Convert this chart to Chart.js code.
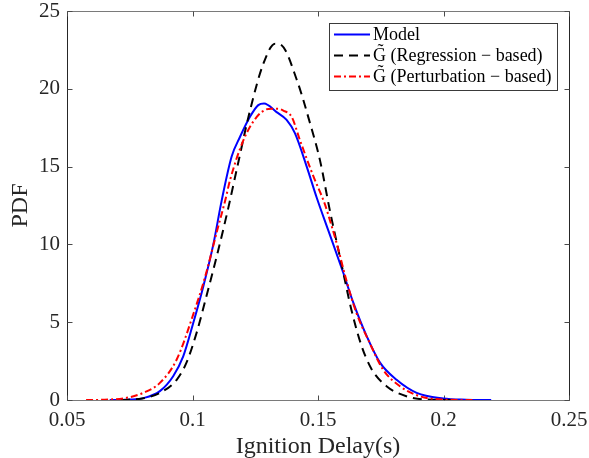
<!DOCTYPE html>
<html>
<head>
<meta charset="utf-8">
<script src="https://cdn.jsdelivr.net/npm/chart.js@4"></script>
<style>
  html, body { margin: 0; padding: 0; background: #ffffff; }
  #wrap { width: 589px; height: 458px; position: relative; }
</style>
</head>
<body>
<div id="wrap"><canvas id="c" width="589" height="458"></canvas></div>
<script>
// ---- Data ----
const xTicks = [0.05, 0.1, 0.15, 0.2, 0.25];
const xTickLabels = ['0.05', '0.1', '0.15', '0.2', '0.25'];
const yTicks = [0, 5, 10, 15, 20, 25];
const yTickLabels = ['0', '5', '10', '15', '20', '25'];

const seriesNames = ['Model', 'G\u0303 (Regression \u2212 based)', 'G\u0303 (Perturbation \u2212 based)'];

// Model (blue solid)
const modelX = [0.067, 0.075, 0.0804, 0.087, 0.0923, 0.0963, 0.1003, 0.1043, 0.1083, 0.1116, 0.1156, 0.1189, 0.1229, 0.1262, 0.1285, 0.1335, 0.1375, 0.1408, 0.1455, 0.1495, 0.1541, 0.1601, 0.1641, 0.1694, 0.1747, 0.1813, 0.1893, 0.1999, 0.209, 0.219];
const modelY = [0, 0.03, 0.12, 0.57, 1.53, 2.8, 4.95, 7.3, 10.0, 12.8, 15.65, 16.9, 18.2, 18.95, 19.05, 18.5, 18.0, 17.15, 15.0, 13.0, 10.9, 8.16, 6.24, 4.1, 2.4, 1.3, 0.46, 0.1, 0.02, 0];

// Regression-based (black dashed)
const regX = [0.0715, 0.080, 0.087, 0.0937, 0.0976, 0.1016, 0.1056, 0.1096, 0.1142, 0.1176, 0.1229, 0.1282, 0.1329, 0.1355, 0.1415, 0.1468, 0.1508, 0.1547, 0.1594, 0.1633, 0.1673, 0.1713, 0.1773, 0.1852, 0.1932, 0.205];
const regY = [0, 0.1, 0.46, 1.3, 2.4, 4.3, 6.7, 9.2, 12.3, 14.8, 18.6, 21.6, 22.9, 22.8, 20.6, 17.8, 15.4, 12.2, 8.7, 5.8, 3.5, 2.0, 0.89, 0.24, 0.03, 0];

// Perturbation-based (red dash-dot)
const pertX = [0.0576, 0.065, 0.0738, 0.0804, 0.087, 0.0937, 0.1003, 0.1050, 0.1099, 0.1131, 0.1149, 0.1203, 0.1256, 0.1290, 0.1315, 0.1340, 0.1362, 0.1395, 0.1428, 0.1481, 0.1527, 0.1554, 0.1574, 0.1613, 0.1653, 0.1706, 0.1759, 0.1826, 0.1905, 0.1999, 0.2115];
const pertY = [0, 0.02, 0.14, 0.46, 1.1, 2.6, 5.5, 7.9, 10.94, 12.87, 14.1, 16.7, 18.2, 18.65, 18.72, 18.72, 18.6, 18.2, 16.7, 14.4, 12.6, 11.2, 10.1, 7.7, 5.6, 3.67, 1.96, 0.89, 0.24, 0.03, 0];

const toPts = (xs, ys) => xs.map((x, i) => ({ x: x, y: ys[i] }));

const SERIF = "'Liberation Serif', 'DejaVu Serif', serif";

// ---- Plugins: MATLAB-style box with inward ticks, and in-axes legend ----
const framePlugin = {
  id: 'frame',
  beforeDatasetsDraw(chart) {
    const { ctx, chartArea: a, scales } = chart;
    const xs = scales.x, ys = scales.y;
    const L = Math.round(a.left) + 0.5, R = Math.round(a.right) + 0.5;
    const T = Math.round(a.top) + 0.5, B = Math.round(a.bottom) + 0.5;
    ctx.save();
    ctx.lineWidth = 1;
    ctx.strokeStyle = '#7a7a7a';
    ctx.beginPath();
    ctx.moveTo(L, T); ctx.lineTo(R, T);
    ctx.moveTo(L, B); ctx.lineTo(R, B);
    ctx.stroke();
    ctx.strokeStyle = '#262626';
    ctx.beginPath();
    ctx.moveTo(L, T); ctx.lineTo(L, B);
    ctx.moveTo(R, T); ctx.lineTo(R, B);
    ctx.stroke();
    const tl = 5;
    ctx.strokeStyle = '#4a4a4a';
    ctx.beginPath();
    xTicks.forEach(v => {
      const px = Math.round(xs.getPixelForValue(v)) + 0.5;
      ctx.moveTo(px, B); ctx.lineTo(px, B - tl);
      ctx.moveTo(px, T); ctx.lineTo(px, T + tl);
    });
    yTicks.forEach(v => {
      const py = Math.round(ys.getPixelForValue(v)) + 0.5;
      ctx.moveTo(L, py); ctx.lineTo(L + tl, py);
      ctx.moveTo(R, py); ctx.lineTo(R - tl, py);
    });
    ctx.stroke();
    ctx.restore();
  }
};

const legendPlugin = {
  id: 'matlabLegend',
  afterDatasetsDraw(chart) {
    const { ctx } = chart;
    const bx = 329.5, by = 23.5, bw = 228, bh = 67;
    ctx.save();
    ctx.fillStyle = '#ffffff';
    ctx.fillRect(bx, by, bw, bh);
    ctx.strokeStyle = '#3a3a3a';
    ctx.lineWidth = 1;
    ctx.strokeRect(bx, by, bw, bh);
    const rows = [34, 55, 76];
    ctx.font = '18px ' + SERIF;
    ctx.textBaseline = 'middle';
    ctx.textAlign = 'left';
    chart.data.datasets.forEach((ds, i) => {
      const y = rows[i] + 0.5;
      ctx.save();
      ctx.strokeStyle = ds.borderColor;
      ctx.lineWidth = ds.borderWidth;
      ctx.setLineDash(ds.borderDash || []);
      ctx.beginPath();
      ctx.moveTo(334, y); ctx.lineTo(370, y);
      ctx.stroke();
      ctx.restore();
      ctx.fillStyle = '#000000';
      ctx.fillText(ds.label, 373, rows[i] + 1);
    });
    ctx.restore();
  }
};

const noPad = s => { s.paddingLeft = 0; s.paddingRight = 0; s.paddingTop = 0; s.paddingBottom = 0; };

new Chart(document.getElementById('c'), {
  type: 'line',
  data: {
    datasets: [
      {
        label: seriesNames[0],
        data: toPts(modelX, modelY),
        borderColor: '#0000ff',
        borderWidth: 2,
        pointRadius: 0,
        cubicInterpolationMode: 'monotone',
        fill: false,
        order: 3
      },
      {
        label: seriesNames[1],
        data: toPts(regX, regY),
        borderColor: '#000000',
        borderWidth: 2,
        borderDash: [9, 6],
        pointRadius: 0,
        cubicInterpolationMode: 'monotone',
        fill: false,
        order: 2
      },
      {
        label: seriesNames[2],
        data: toPts(pertX, pertY),
        borderColor: '#ff0000',
        borderWidth: 2,
        borderDash: [7, 3, 2, 3],
        pointRadius: 0,
        cubicInterpolationMode: 'monotone',
        fill: false,
        order: 1
      }
    ]
  },
  options: {
    responsive: false,
    animation: false,
    devicePixelRatio: 1,
    layout: { padding: { top: 11, right: 20, left: 0, bottom: 0 } },
    plugins: {
      legend: { display: false },
      tooltip: { enabled: false }
    },
    scales: {
      x: {
        type: 'linear',
        min: 0.05,
        max: 0.25,
        grid: { display: false, drawTicks: false },
        border: { display: false },
        afterBuildTicks: s => { s.ticks = xTicks.map(v => ({ value: v })); },
        afterFit: s => { s.height = 58; noPad(s); },
        ticks: {
          color: '#262626',
          font: { family: SERIF, size: 21 },
          padding: 8,
          maxRotation: 0,
          autoSkip: false,
          callback: (v, i) => xTickLabels[i]
        },
        title: {
          display: true,
          text: 'Ignition Delay(s)',
          color: '#262626',
          font: { family: SERIF, size: 24, lineHeight: 1.0 },
          padding: { top: 0, bottom: -1 }
        }
      },
      y: {
        type: 'linear',
        min: 0,
        max: 25,
        grid: { display: false, drawTicks: false },
        border: { display: false },
        afterBuildTicks: s => { s.ticks = yTicks.map(v => ({ value: v })); },
        afterFit: s => { s.width = 67; noPad(s); },
        ticks: {
          color: '#262626',
          font: { family: SERIF, size: 21 },
          padding: 7,
          autoSkip: false,
          callback: (v, i) => yTickLabels[i]
        },
        title: {
          display: true,
          text: 'PDF',
          color: '#262626',
          font: { family: SERIF, size: 24, lineHeight: 1.2 },
          padding: { top: 6, bottom: 0 }
        }
      }
    }
  },
  plugins: [framePlugin, legendPlugin]
});
</script>
</body>
</html>
